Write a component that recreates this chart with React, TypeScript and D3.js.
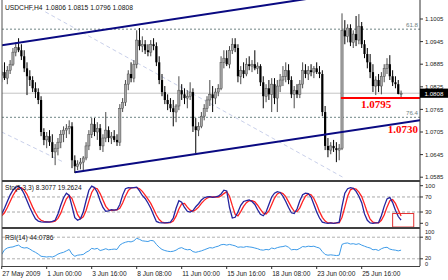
import React from 'react';
import * as d3 from 'd3';

const symbolTitle = 'USDCHF,H4';
const lastQuote = ['1.0806', '1.0815', '1.0796', '1.0808'];

const opens = [
  1.0856,1.0864,1.0848,1.0869,1.0885,1.0917,1.0930,1.0922,1.0906,1.0874,
  1.0853,1.0843,1.0821,1.0811,1.0790,1.0705,1.0684,1.0694,1.0678,1.0652,
  1.0662,1.0678,1.0699,1.0710,1.0715,1.0720,1.0630,1.0614,1.0620,1.0625,
  1.0636,1.0668,1.0699,1.0726,1.0705,1.0715,1.0668,1.0689,1.0710,1.0689,
  1.0694,1.0684,1.0678,1.0768,1.0784,1.0832,1.0859,1.0848,1.0885,1.0949,
  1.0933,1.0938,1.0922,1.0917,1.0938,1.0933,1.0890,1.0843,1.0811,1.0790,
  1.0779,1.0768,1.0758,1.0774,1.0816,1.0805,1.0795,1.0800,1.0811,1.0720,
  1.0710,1.0720,1.0747,1.0768,1.0790,1.0805,1.0795,1.0811,1.0821,1.0890,
  1.0901,1.0885,1.0922,1.0938,1.0928,1.0853,1.0869,1.0859,1.0885,1.0880,
  1.0885,1.0874,1.0880,1.0837,1.0800,1.0821,1.0805,1.0832,1.0795,1.0827,
  1.0843,1.0853,1.0869,1.0843,1.0805,1.0816,1.0805,1.0832,1.0869,1.0859,
  1.0869,1.0864,1.0874,1.0864,1.0859,1.0758,1.0668,1.0657,1.0668,1.0662,
  1.0657,1.0662,1.0975,1.0959,1.0981,1.0943,1.0965,1.0949,1.0986,1.0938,
  1.0912,1.0890,1.0864,1.0827,1.0843,1.0827,1.0853,1.0874,1.0885,1.0853,
  1.0837,1.0832,1.0806,
];
const highs = [
  1.0882,1.0890,1.0880,1.0896,1.0928,1.0943,1.0954,1.0938,1.0922,1.0890,
  1.0869,1.0853,1.0837,1.0821,1.0800,1.0715,1.0705,1.0710,1.0699,1.0673,
  1.0689,1.0710,1.0720,1.0726,1.0736,1.0731,1.0643,1.0630,1.0636,1.0641,
  1.0678,1.0710,1.0742,1.0742,1.0731,1.0726,1.0699,1.0758,1.0720,1.0705,
  1.0710,1.0699,1.0779,1.0795,1.0843,1.0869,1.0890,1.0896,1.0975,1.0981,
  1.0959,1.0949,1.0938,1.0949,1.0954,1.0943,1.0906,1.0859,1.0827,1.0805,
  1.0795,1.0790,1.0779,1.0853,1.0832,1.0821,1.0816,1.0837,1.0821,1.0742,
  1.0731,1.0758,1.0779,1.0800,1.0843,1.0827,1.0821,1.0832,1.0906,1.0922,
  1.0922,1.0933,1.0954,1.0954,1.0938,1.0880,1.0890,1.0901,1.0906,1.0896,
  1.0922,1.0890,1.0885,1.0853,1.0832,1.0843,1.0848,1.0848,1.0843,1.0859,
  1.0880,1.0890,1.0885,1.0853,1.0827,1.0832,1.0843,1.0890,1.0885,1.0880,
  1.0885,1.0880,1.0890,1.0880,1.0869,1.0774,1.0689,1.0678,1.0684,1.0678,
  1.0673,1.1020,1.1002,1.0991,1.0991,1.0975,1.1013,1.1018,1.0997,1.0949,
  1.0928,1.0912,1.0885,1.0853,1.0859,1.0864,1.0885,1.0901,1.0909,1.0869,
  1.0853,1.0843,1.0815,
];
const lows = [
  1.0837,1.0843,1.0832,1.0859,1.0880,1.0906,1.0917,1.0896,1.0864,1.0803,
  1.0827,1.0811,1.0795,1.0779,1.0694,1.0670,1.0662,1.0668,1.0636,1.0617,
  1.0643,1.0662,1.0678,1.0689,1.0699,1.0609,1.0596,1.0604,1.0606,1.0604,
  1.0630,1.0657,1.0689,1.0694,1.0684,1.0657,1.0652,1.0678,1.0678,1.0673,
  1.0678,1.0668,1.0668,1.0758,1.0774,1.0816,1.0837,1.0837,1.0874,1.0922,
  1.0917,1.0912,1.0906,1.0906,1.0922,1.0880,1.0832,1.0800,1.0779,1.0763,
  1.0758,1.0720,1.0731,1.0763,1.0790,1.0779,1.0768,1.0790,1.0705,1.0649,
  1.0694,1.0715,1.0736,1.0758,1.0774,1.0758,1.0779,1.0800,1.0816,1.0874,
  1.0880,1.0874,1.0912,1.0917,1.0837,1.0832,1.0848,1.0853,1.0869,1.0864,
  1.0869,1.0859,1.0827,1.0768,1.0784,1.0790,1.0758,1.0779,1.0758,1.0811,
  1.0827,1.0837,1.0832,1.0795,1.0768,1.0795,1.0795,1.0821,1.0848,1.0843,
  1.0853,1.0848,1.0859,1.0848,1.0747,1.0657,1.0638,1.0646,1.0652,1.0625,
  1.0630,1.0657,1.0938,1.0943,1.0933,1.0928,1.0933,1.0938,1.0928,1.0901,
  1.0874,1.0848,1.0811,1.0803,1.0811,1.0805,1.0837,1.0859,1.0843,1.0827,
  1.0821,1.0805,1.0796,
];
const closes = [
  1.0864,1.0848,1.0869,1.0885,1.0917,1.0930,1.0922,1.0906,1.0874,1.0853,
  1.0843,1.0821,1.0811,1.0790,1.0705,1.0684,1.0694,1.0678,1.0652,1.0662,
  1.0678,1.0699,1.0710,1.0715,1.0720,1.0630,1.0614,1.0620,1.0625,1.0636,
  1.0668,1.0699,1.0726,1.0705,1.0715,1.0668,1.0689,1.0710,1.0689,1.0694,
  1.0684,1.0678,1.0768,1.0784,1.0832,1.0859,1.0848,1.0885,1.0949,1.0933,
  1.0938,1.0922,1.0917,1.0938,1.0933,1.0890,1.0843,1.0811,1.0790,1.0779,
  1.0768,1.0758,1.0774,1.0816,1.0805,1.0795,1.0800,1.0811,1.0720,1.0710,
  1.0720,1.0747,1.0768,1.0790,1.0805,1.0795,1.0811,1.0821,1.0890,1.0901,
  1.0885,1.0922,1.0938,1.0928,1.0853,1.0869,1.0859,1.0885,1.0880,1.0885,
  1.0874,1.0880,1.0837,1.0800,1.0821,1.0805,1.0832,1.0795,1.0827,1.0843,
  1.0853,1.0869,1.0843,1.0805,1.0816,1.0805,1.0832,1.0869,1.0859,1.0869,
  1.0864,1.0874,1.0864,1.0859,1.0758,1.0668,1.0657,1.0668,1.0662,1.0657,
  1.0662,1.0975,1.0959,1.0981,1.0943,1.0965,1.0949,1.0986,1.0938,1.0912,
  1.0890,1.0864,1.0827,1.0843,1.0827,1.0853,1.0874,1.0885,1.0853,1.0837,
  1.0832,1.0806,1.0808,
];

const stochMain = [
  25,40,58,75,88,96,98,92,78,60,
  42,26,12,6,4,3,4,3,5,8,
  25,48,68,80,74,45,15,8,12,30,
  60,88,99,95,82,60,42,32,33,36,
  35,36,50,75,92,95,94,95,96,86,
  74,66,54,40,22,5,2,1,1,2,
  3,14,40,60,56,42,32,30,34,44,
  52,62,68,70,71,69,70,72,78,88,
  86,42,14,16,30,48,58,60,62,58,
  50,36,24,20,30,50,70,80,84,82,
  72,58,42,28,26,38,60,76,80,79,
  70,50,30,14,3,1,0,1,0,1,
  3,45,80,92,95,93,85,72,55,25,
  8,1,0,1,2,20,45,65,69,55,
  35,18,8.3077,
];
const stochSignal = [
  20,28,42,58,74,86,94,95,89,77,
  60,43,28,15,8,5,4,4,4,6,
  13,27,47,65,74,66,45,23,12,17,
  34,59,82,94,92,79,62,45,36,34,
  35,36,40,54,72,87,94,95,95,92,
  85,75,64,53,38,22,10,3,1,1,
  2,6,19,38,52,53,43,35,32,36,
  43,53,61,67,70,70,70,70,73,79,
  84,72,47,24,20,31,45,55,60,60,
  57,48,37,27,25,33,50,67,78,82,
  79,71,57,43,32,31,41,58,72,78,
  76,66,50,31,16,6,1,1,0,1,
  1,16,43,72,89,93,91,83,71,51,
  29,11,3,1,1,8,22,43,60,63,
  53,36,19.2624,
];
const rsiValues = [
  32,45,50,52,53,56,58,52,50,51,
  47,42,38,33,27,26,25,26,25,28,
  33,36,38,42,46,33,27,30,31,32,
  38,42,49,47,49,43,45,48,45,46,
  47,46,58,63,66,68,67,70,77,74,
  70,69,68,71,70,60,52,46,43,41,
  40,41,44,49,51,47,45,46,40,38,
  40,42,45,48,51,50,53,55,59,60,
  58,60,58,56,52,53,52,54,53,52,
  50,48,45,44,46,45,50,48,51,53,
  54,56,52,45,46,45,49,54,53,55,
  54,55,52,50,40,32,30,31,30,29,
  30,60,63,64,61,62,60,62,58,55,
  52,50,45,46,43,48,51,52,47,45,
  44,42,44.0786,
];

const priceTicks = [1.1005, 1.0945, 1.0885, 1.0825, 1.0765, 1.0705, 1.0645, 1.0585];
const timeLabels = ['27 May 2009', '1 Jun 00:00', '3 Jun 16:00', '8 Jun 08:00', '11 Jun 00:00', '15 Jun 16:00', '18 Jun 08:00', '23 Jun 00:00', '25 Jun 16:00'];
const timeLabelBars = [0, 16, 32, 48, 64, 80, 96, 112, 128];
const fibLevels = [{ label: '61.8', price: 1.0978 }, { label: '76.4', price: 1.0744 }];
const bidPrice = 1.0808;
const upperChannel: [number, number][] = [[-2, 1.0933], [110, 1.1060]];
const lowerChannel: [number, number][] = [[26, 1.0598], [152, 1.0740]];
const fibTrend: [number, number][] = [[15.5, 1.1024], [122, 1.0582]];
const fibTrend2: [number, number][] = [[0, 1.0705], [22, 1.0625]];
const supportLevel = { price: 1.0795, fromBar: 120.6, label: '1.0795' };
const channelLabel = { price: 1.0730, label: '1.0730' };
const stochLevels = [70, 30];
const stochAxis = [100, 70, 30, 0];
const rsiLevels = [80, 20];
const stochTitle = 'Sto(5,3,3) 8.3077 19.2624';
const rsiTitle = 'RSI(14) 44.0786';
const stochBox = { fromBar: 139, toBar: 146.5, top: 26, bottom: -10 };

const SANS = "'Liberation Sans', Arial, sans-serif";
const SERIF = "'Liberation Serif', 'Times New Roman', serif";

export default function App() {
  const PL = 2, PR = 420;
  const MAIN_BOTTOM = 181;
  const STO_TOP = 182.5, STO_BOTTOM = 227.5;
  const RSI_TOP = 229, RSI_BOTTOM = 266;

  const x = d3.scaleLinear().domain([0, 16]).range([1.7, 46.7]);
  const y = d3.scaleLinear().domain([1.0585, 1.1005]).range([177.2, 19]);
  const ys = d3.scaleLinear().domain([0, 100]).range([223.3, 185.7]);
  const yr = d3.scaleLinear().domain([0, 100]).range([266, 230]);

  const stLine = d3.line<number>().x((_, i) => x(i)).y((v) => ys(v));
  const rsiLine = d3.line<number>().x((_, i) => x(i)).y((v) => yr(v));
  const priceLine = d3.line<[number, number]>().x((d) => x(d[0])).y((d) => y(d[1]));

  const bw = 2.2;

  return (
    <svg width={448} height={280} style={{ position: 'absolute', left: 0, top: 0, background: '#fff' }}>
      <defs>
        <clipPath id="mainClip"><rect x={PL} y={0} width={PR - PL} height={MAIN_BOTTOM} /></clipPath>
        <clipPath id="stoClip"><rect x={PL} y={STO_TOP} width={PR - PL} height={STO_BOTTOM - STO_TOP} /></clipPath>
        <clipPath id="rsiClip"><rect x={PL} y={RSI_TOP} width={PR - PL} height={RSI_BOTTOM - RSI_TOP} /></clipPath>
      </defs>
      <rect x={0} y={0} width={448} height={280} fill="#fff" />

      {/* main panel */}
      <g clipPath="url(#mainClip)">
        {fibLevels.map((f) => (
          <line key={f.label} x1={PL} x2={PR} y1={y(f.price)} y2={y(f.price)} stroke="#6f8585" strokeWidth={1} strokeDasharray="2,2" />
        ))}
        <line x1={PL} x2={PR} y1={y(bidPrice)} y2={y(bidPrice)} stroke="#c4c4c4" strokeWidth={1} />
        <path d={priceLine(fibTrend) || ''} stroke="#c9d0ea" strokeWidth={1} strokeDasharray="4,3" fill="none" />
        <path d={priceLine(fibTrend2) || ''} stroke="#c9d0ea" strokeWidth={1} strokeDasharray="4,3" fill="none" />
        {closes.map((c, i) => {
          const o = opens[i];
          const up = c >= o;
          const top = y(Math.max(o, c));
          const bot = y(Math.min(o, c));
          return (
            <g key={i}>
              <line x1={x(i)} x2={x(i)} y1={y(highs[i])} y2={y(lows[i])} stroke={up ? '#4a4a4a' : '#000'} strokeWidth={1} />
              <rect x={x(i) - bw / 2} y={top} width={bw} height={Math.max(1, bot - top)} fill={up ? '#a6a6a6' : '#000'} stroke={up ? '#4a4a4a' : 'none'} strokeWidth={0.5} />
            </g>
          );
        })}
        <path d={priceLine(upperChannel) || ''} stroke="#0a0a82" strokeWidth={2} fill="none" />
        <path d={priceLine(lowerChannel) || ''} stroke="#0a0a82" strokeWidth={2} fill="none" />
        <line x1={x(supportLevel.fromBar)} x2={PR} y1={y(supportLevel.price)} y2={y(supportLevel.price)} stroke="#ff0000" strokeWidth={2} />
        {fibLevels.map((f) => (
          <text key={f.label} x={418} y={y(f.price) - 2} fontSize={6.2} fontFamily={SANS} fill="#6f7f7f" textAnchor="end">{f.label}</text>
        ))}
        <text x={361} y={107.7} fontSize={11} fontWeight="bold" fontFamily={SERIF} fill="#ff0000">{supportLevel.label}</text>
        <text x={418} y={133.2} fontSize={11} fontWeight="bold" fontFamily={SERIF} fill="#ff0000" textAnchor="end">{channelLabel.label}</text>
      </g>
      <text x={5} y={10.3} fontSize={6.7} fontFamily={SANS} fill="#111">
        {symbolTitle}
        <tspan dx={3}>{lastQuote.join(' ')}</tspan>
      </text>

      {/* stochastic panel */}
      <g clipPath="url(#stoClip)">
        {stochLevels.map((l) => (
          <line key={l} x1={PL} x2={PR} y1={ys(l)} y2={ys(l)} stroke="#a8a8a8" strokeWidth={1} strokeDasharray="3,2" />
        ))}
        <path d={stLine(stochSignal) || ''} stroke="#ff2222" strokeWidth={1.3} fill="none" />
        <path d={stLine(stochMain) || ''} stroke="#24249e" strokeWidth={1.3} fill="none" />
      </g>
      <rect x={x(stochBox.fromBar)} y={ys(stochBox.top)} width={x(stochBox.toBar) - x(stochBox.fromBar)} height={ys(stochBox.bottom) - ys(stochBox.top)} fill="none" stroke="#e23030" strokeWidth={1} />
      <text x={5} y={190.3} fontSize={6.6} fontFamily={SANS} fill="#111">{stochTitle}</text>

      {/* RSI panel */}
      <g clipPath="url(#rsiClip)">
        {rsiLevels.map((l) => (
          <line key={l} x1={PL} x2={PR} y1={yr(l)} y2={yr(l)} stroke="#b0b0b0" strokeWidth={1} strokeDasharray="3,2" />
        ))}
        <path d={rsiLine(rsiValues) || ''} stroke="#3d9be9" strokeWidth={1} fill="none" />
      </g>
      <text x={5} y={239.5} fontSize={6.6} fontFamily={SANS} fill="#111">{rsiTitle}</text>

      {/* frames */}
      <line x1={PL} x2={PL} y1={0} y2={RSI_BOTTOM} stroke="#505050" strokeWidth={1} />
      <line x1={PR} x2={PR} y1={0} y2={RSI_BOTTOM} stroke="#303030" strokeWidth={1} />
      <line x1={PL} x2={PR} y1={MAIN_BOTTOM} y2={MAIN_BOTTOM} stroke="#404040" strokeWidth={2} />
      <line x1={PL} x2={PR} y1={STO_BOTTOM + 0.5} y2={STO_BOTTOM + 0.5} stroke="#404040" strokeWidth={2} />
      <line x1={PL} x2={PR} y1={RSI_BOTTOM + 0.5} y2={RSI_BOTTOM + 0.5} stroke="#404040" strokeWidth={1} />

      {/* price axis */}
      {priceTicks.map((p) => (
        <g key={p}>
          <line x1={PR} x2={PR + 3} y1={y(p)} y2={y(p)} stroke="#303030" />
          <text x={425} y={y(p) + 2.2} fontSize={6} fontFamily={SANS} fill="#222">{p.toFixed(4)}</text>
        </g>
      ))}
      <rect x={PR} y={y(bidPrice) - 4.6} width={28} height={9.2} fill="#000" />
      <text x={424.5} y={y(bidPrice) + 2.3} fontSize={6.2} fontFamily={SANS} fill="#fff">{bidPrice.toFixed(4)}</text>

      {/* stoch axis */}
      {stochAxis.map((v) => (
        <g key={v}>
          <line x1={PR} x2={PR + 3} y1={ys(v)} y2={ys(v)} stroke="#303030" />
          <text x={425} y={ys(v) + 2.2} fontSize={6} fontFamily={SANS} fill="#222">{v}</text>
        </g>
      ))}
      {/* rsi axis */}
      <text x={425} y={yr(100) + 3.8} fontSize={5.6} fontFamily={SANS} fill="#222">100</text>
      {rsiLevels.map((v) => (
        <g key={v}>
          <line x1={PR} x2={PR + 3} y1={yr(v)} y2={yr(v)} stroke="#303030" />
          <text x={425} y={v === 80 ? yr(v) + 3.2 : yr(v) + 1.3} fontSize={5.6} fontFamily={SANS} fill="#222">{v}</text>
        </g>
      ))}
      <text x={425} y={yr(0) - 0.2} fontSize={5.6} fontFamily={SANS} fill="#222">0</text>

      {/* time axis */}
      {timeLabelBars.map((b, k) => (
        <g key={b}>
          <line x1={x(b)} x2={x(b)} y1={RSI_BOTTOM} y2={RSI_BOTTOM + 3} stroke="#303030" />
          <text x={x(b) + 0.5} y={276.3} fontSize={6.6} fontFamily={SANS} fill="#222">{timeLabels[k]}</text>
        </g>
      ))}
    </svg>
  );
}
